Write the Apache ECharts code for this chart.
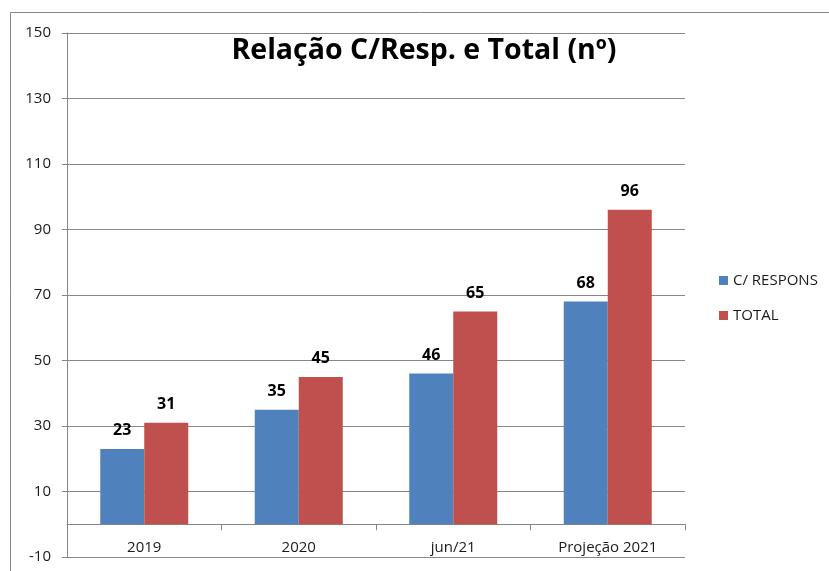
<!DOCTYPE html>
<html>
<head>
<meta charset="utf-8">
<script src="https://cdn.jsdelivr.net/npm/echarts@6/dist/echarts.min.js"></script>
<style>
  html, body { margin: 0; padding: 0; background: #fff; }
  #chartBar { width: 829px; height: 571px; }
</style>
</head>
<body>
<div id="chartBar"></div>
<script>
/* data */
var categories = ['2019', '2020', 'jun/21', 'Projeção 2021'];
var comResposta = [23, 35, 46, 68];
var total = [31, 45, 65, 96];
var seriesNames = ['C/ RESPONS', 'TOTAL'];

var fontFam = '"Open Sans", sans-serif';

var option = {
    backgroundColor: '#fff',
    animation: false,
    color: ['#4F81BD', '#C0504D'],
    title: {
        text: 'Relação C/Resp. e Total (nº)',
        left: 419,
        textAlign: 'center',
        top: 31,
        textStyle: {
            color: '#000',
            fontWeight: 'bold',
            fontSize: 28.5,
            fontFamily: fontFam
        }
    },
    graphic: [{
        type: 'rect',
        shape: { x: 10.5, y: 12.5, width: 830, height: 570 },
        style: { fill: 'none', stroke: '#888', lineWidth: 1 },
        silent: true
    }],
    legend: {
        orient: 'vertical',
        left: 714,
        top: 268,
        itemWidth: 9,
        itemHeight: 9,
        itemGap: 20,
        icon: 'rect',
        textStyle: {
            color: '#1a1a1a',
            fontSize: 15,
            fontFamily: fontFam
        },
        data: seriesNames
    },
    grid: {
        left: 67,
        right: 144,
        top: 33,
        bottom: 14,
        outerBoundsMode: 'none'
    },
    xAxis: {
        type: 'category',
        data: categories,
        axisLine: {
            onZero: true,
            lineStyle: { color: '#868686' }
        },
        axisTick: {
            show: true,
            length: 6,
            lineStyle: { color: '#868686' }
        },
        axisLabel: {
            // labels sit just above the -10 line, like the original
            margin: -17,
            color: '#1a1a1a',
            fontSize: 15,
            fontFamily: fontFam
        }
    },
    yAxis: {
        type: 'value',
        min: -10,
        max: 150,
        interval: 20,
        axisLine: {
            show: true,
            lineStyle: { color: '#868686' }
        },
        axisTick: {
            show: true,
            length: 5,
            lineStyle: { color: '#868686' }
        },
        splitLine: {
            show: true,
            lineStyle: { color: '#868686' }
        },
        axisLabel: {
            margin: 16,
            color: '#1a1a1a',
            fontSize: 15,
            fontFamily: fontFam
        }
    },
    series: [{
        name: seriesNames[0],
        type: 'bar',
        barWidth: 44,
        barGap: '0%',
        data: comResposta,
        label: {
            show: true,
            position: 'top',
            distance: 10,
            color: '#000',
            fontWeight: 'bold',
            fontSize: 16,
            fontFamily: fontFam
        }
    }, {
        name: seriesNames[1],
        type: 'bar',
        barWidth: 44,
        barGap: '0%',
        data: total,
        label: {
            show: true,
            position: 'top',
            distance: 10,
            color: '#000',
            fontWeight: 'bold',
            fontSize: 16,
            fontFamily: fontFam
        }
    }]
};

var chartBar = echarts.init(document.getElementById('chartBar'));
chartBar.setOption(option);
</script>
</body>
</html>
